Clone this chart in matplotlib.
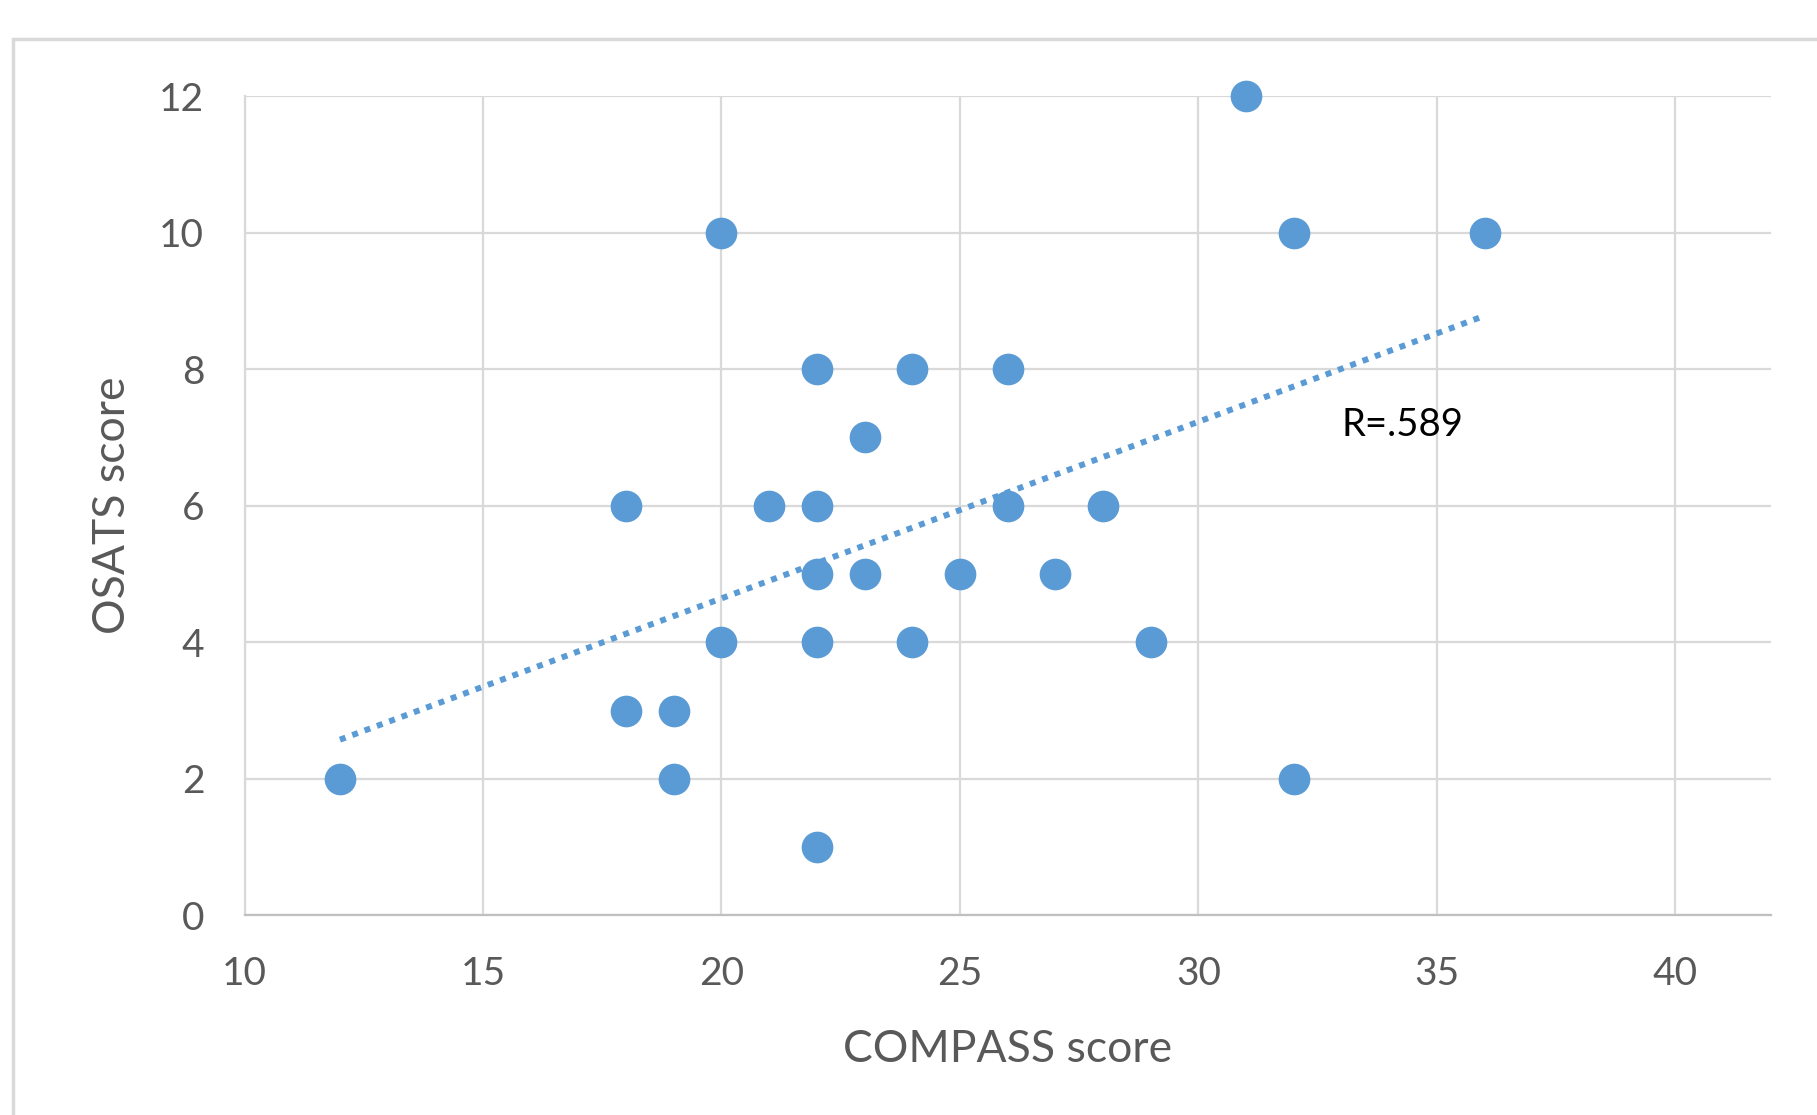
import numpy as np
import matplotlib
matplotlib.use("Agg")
from matplotlib import pyplot as plt
from matplotlib.patches import Rectangle

# data
compass = [12, 18, 18, 19, 19, 20, 20, 21, 22, 22, 22, 22, 22, 23, 23,
           24, 24, 25, 26, 26, 27, 28, 29, 31, 32, 32, 36]
osats = [2, 6, 3, 3, 2, 10, 4, 6, 8, 6, 5, 4, 1, 7, 5,
         8, 4, 5, 8, 6, 5, 6, 4, 12, 10, 2, 10]
x_ticks = [10, 15, 20, 25, 30, 35, 40]
y_ticks = [0, 2, 4, 6, 8, 10, 12]
r_label = "R=.589"

blue = "#5B9BD5"
grey_txt = "#595959"
grid_col = "#D9D9D9"

plt.rcParams['font.family'] = ['Lato', 'DejaVu Sans']

fig = plt.figure(figsize=(18.17, 11.15), dpi=100)
ax = fig.add_axes([0.1346, 0.179, 0.8399, 0.7349])

# outer chart frame (cut off at right and bottom in the original)
fig.patches.append(Rectangle((13 / 1817, -0.05), 1.1, 1 - 39 / 1115 + 0.05,
                             transform=fig.transFigure, fill=False,
                             edgecolor=grid_col, lw=2.5))

ax.scatter(compass, osats, s=520, color=blue, zorder=3, linewidths=0,
           clip_on=False)

# linear trendline
k, b = np.polyfit(compass, osats, 1)
xs = np.array([min(compass), max(compass)])
ax.plot(xs, k * xs + b, color=blue, lw=4.3, linestyle=(0, (1, 1.2)), zorder=2)

ax.text(33.0, 7.18, r_label, fontsize=27.5, color="black", ha="left", va="center")

ax.set_xlim(10, 42)
ax.set_ylim(0, 12)
ax.set_xticks(x_ticks)
ax.set_yticks(y_ticks)
ax.tick_params(length=0, labelsize=28, labelcolor=grey_txt)
ax.tick_params(axis="x", pad=29)
ax.tick_params(axis="y", pad=29)
ax.grid(True, color=grid_col, lw=1.6)
ax.set_axisbelow(True)
for s in ["top", "right"]:
    ax.spines[s].set_visible(False)
ax.spines["left"].set_color(grid_col)
ax.spines["left"].set_linewidth(1.6)
ax.spines["bottom"].set_color("#BFBFBF")
ax.spines["bottom"].set_linewidth(1.6)

ax.set_xlabel("COMPASS score", fontsize=32, color=grey_txt, va="center")
ax.xaxis.set_label_coords(0.5, -0.164)
ax.set_ylabel("OSATS score", fontsize=32, color=grey_txt, va="center")
ax.yaxis.set_label_coords(-0.0868, 0.501)

plt.savefig("out.png", dpi=100)
